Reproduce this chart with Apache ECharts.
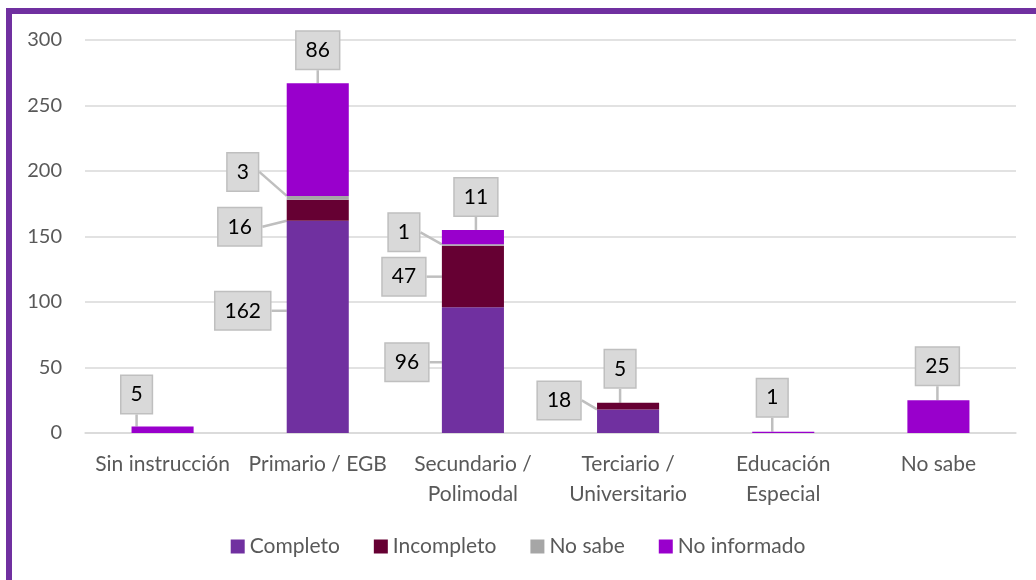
<!DOCTYPE html>
<html>
<head>
<meta charset="utf-8">
<script src="https://cdn.jsdelivr.net/npm/echarts@6/dist/echarts.min.js"></script>
<style>
  html, body { margin: 0; padding: 0; background: #fff; }
  #frame {
    position: absolute; left: 6px; top: 8px; width: 1100px; height: 650px;
    border-top: 6px solid #7030A0; border-left: 6px solid #7030A0;
  }
  #chart { position: absolute; left: 0; top: 0; width: 1036px; height: 580px; }
</style>
</head>
<body>
<div id="frame"></div>
<div id="chart"></div>
<script>
// categorias y valores
const categories = ['Sin instrucción', 'Primario / EGB', 'Secundario /\nPolimodal',
  'Terciario /\nUniversitario', 'Educación\nEspecial', 'No sabe']
const seriesNames = ['Completo', 'Incompleto', 'No sabe', 'No informado']
const completo = [0, 162, 96, 18, 0, 0]
const incompleto = [0, 16, 47, 5, 0, 0]
const noSabe = [0, 3, 1, 0, 0, 0]
const noInformado = [5, 86, 11, 0, 1, 25]
const yTicks = { min: 0, max: 300, interval: 50 }

const colors = ['#7030A0', '#660033', '#A6A6A6', '#9900CC']

// desplazamiento de cada globo respecto al borde superior del segmento
const calloutOffsets = [
  [null, [-75, 90], [-66, 55], [-69, -9], null, null],
  [null, [-78, 27], [-69, 31], [-8, -34], null, null],
  [null, [-75, -24], [-69, -12], null, null, null],
  [[-26, -32], [0, -33], [3, -33], null, [-11, -34], [-1, -34]]
]

const values = [completo, incompleto, noSabe, noInformado]

const chart = echarts.init(document.getElementById('chart'))

const series = values.map((vals, si) => ({
  name: seriesNames[si],
  type: 'bar',
  stack: 'total',
  barWidth: '40%',
  itemStyle: { color: colors[si] },
  data: vals.map(v => (v === 0 ? '-' : v)),
  label: {
    show: true,
    position: 'inside',
    color: '#000',
    fontFamily: 'Lato',
    fontSize: 21,
    backgroundColor: '#D9D9D9',
    borderColor: '#BFBFBF',
    borderWidth: 1.5,
    padding: [9, 9, 7, 9]
  },
  labelLine: {
    show: true,
    lineStyle: { color: '#BFBFBF', width: 2.5 }
  },
  labelLayout: function (params) {
    const o = calloutOffsets[params.seriesIndex][params.dataIndex]
    if (!o) return {}
    return {
      x: params.rect.x + params.rect.width / 2 + o[0],
      y: params.rect.y + o[1],
      align: 'center',
      verticalAlign: 'middle'
    }
  }
}))

chart.setOption({
  animation: false,
  textStyle: { fontFamily: 'Lato' },
  grid: { left: 85, right: 20, top: 40, bottom: 147 },
  legend: {
    bottom: 18,
    left: 'center',
    itemWidth: 14,
    itemHeight: 14,
    itemGap: 34,
    itemTextGap: 5,
    icon: 'rect',
    textStyle: { color: '#595959', fontSize: 21, fontFamily: 'Lato' },
    data: seriesNames
  },
  xAxis: {
    type: 'category',
    data: categories,
    axisLine: { lineStyle: { color: '#D9D9D9', width: 1.5 } },
    axisTick: { show: false },
    axisLabel: { color: '#595959', fontSize: 21, lineHeight: 30, margin: 16, interval: 0 }
  },
  yAxis: {
    type: 'value',
    min: yTicks.min,
    max: yTicks.max,
    interval: yTicks.interval,
    axisLine: { show: false },
    axisTick: { show: false },
    splitLine: { lineStyle: { color: '#D9D9D9', width: 1.5 } },
    axisLabel: { color: '#595959', fontSize: 20, margin: 23 }
  },
  series: series
})
</script>
</body>
</html>
